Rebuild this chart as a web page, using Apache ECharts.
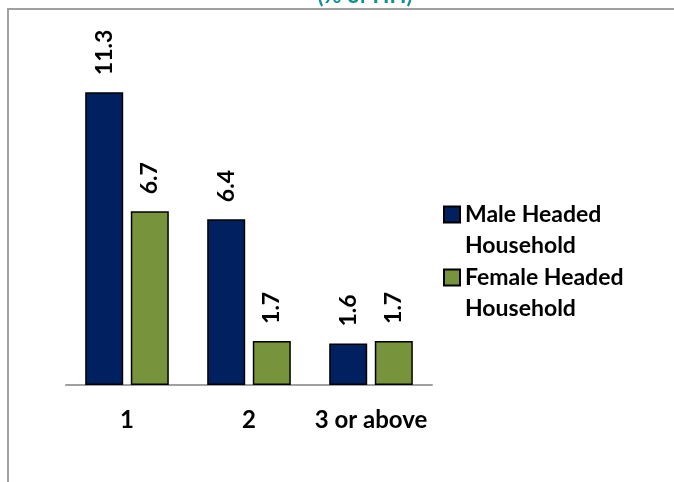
<!DOCTYPE html>
<html>
<head>
<meta charset="utf-8">
<script src="https://cdn.jsdelivr.net/npm/echarts@6/dist/echarts.min.js"></script>
<style>
  html, body { margin: 0; padding: 0; background: #fff; }
  #chart { width: 674px; height: 482px; }
</style>
</head>
<body>
<div id="chart"></div>
<script>
const categories = ['1', '2', '3 or above']
const seriesNames = ['Male Headed\nHousehold', 'Female Headed\nHousehold']
const maleValues = [11.3, 6.4, 1.6]
const femaleValues = [6.7, 1.7, 1.7]
const titleText = '(% of HH)'

const font = 'Lato, "Open Sans", sans-serif'

var chart = echarts.init(document.getElementById('chart'))

function barLabel() {
  return {
    show: true,
    position: 'top',
    rotate: 90,
    align: 'left',
    verticalAlign: 'middle',
    distance: 17,
    color: '#000',
    fontWeight: 'bold',
    fontSize: 23,
    fontFamily: font,
    formatter: p => p.value.toFixed(1)
  }
}

// one legend per series; leading blank line puts the icon next to the first text line
function legendFor(name, top) {
  return {
    orient: 'vertical',
    left: 443,
    top: top,
    padding: 0,
    itemWidth: 16,
    itemHeight: 16,
    icon: 'rect',
    formatter: n => ' \n' + n,
    textStyle: {
      color: '#000', fontWeight: 'bold', fontSize: 23, fontFamily: font, lineHeight: 31
    },
    data: [name]
  }
}

chart.setOption({
  animation: false,
  title: {
    text: titleText,
    left: 365,
    textAlign: 'center',
    top: -15,
    padding: 0,
    textStyle: { color: '#12908e', fontWeight: 'bold', fontSize: 22, fontFamily: font }
  },
  graphic: [{
    type: 'rect',
    shape: { x: 8, y: 9, width: 700, height: 500 },
    style: { fill: 'none', stroke: '#a0a0a0', lineWidth: 2 },
    silent: true
  }],
  legend: [legendFor(seriesNames[0], 168), legendFor(seriesNames[1], 231)],
  grid: { left: 66, top: 74, width: 366, height: 311 },
  xAxis: {
    type: 'category',
    data: categories,
    axisLine: { lineStyle: { color: '#a0a0a0', width: 2 } },
    axisTick: { show: false },
    axisLabel: {
      interval: 0, color: '#000', fontWeight: 'bold', fontSize: 24, fontFamily: font, margin: 23
    }
  },
  yAxis: {
    type: 'value',
    min: 0,
    max: 12,
    show: false,
    splitLine: { show: false }
  },
  series: [
    {
      name: seriesNames[0],
      type: 'bar',
      data: maleValues,
      barWidth: 38,
      barGap: '20%',
      itemStyle: { color: '#002060', borderColor: '#000', borderWidth: 1.5 },
      label: barLabel()
    },
    {
      name: seriesNames[1],
      type: 'bar',
      data: femaleValues,
      barWidth: 38,
      itemStyle: { color: '#77933c', borderColor: '#000', borderWidth: 1.5 },
      label: barLabel()
    }
  ]
})
</script>
</body>
</html>
